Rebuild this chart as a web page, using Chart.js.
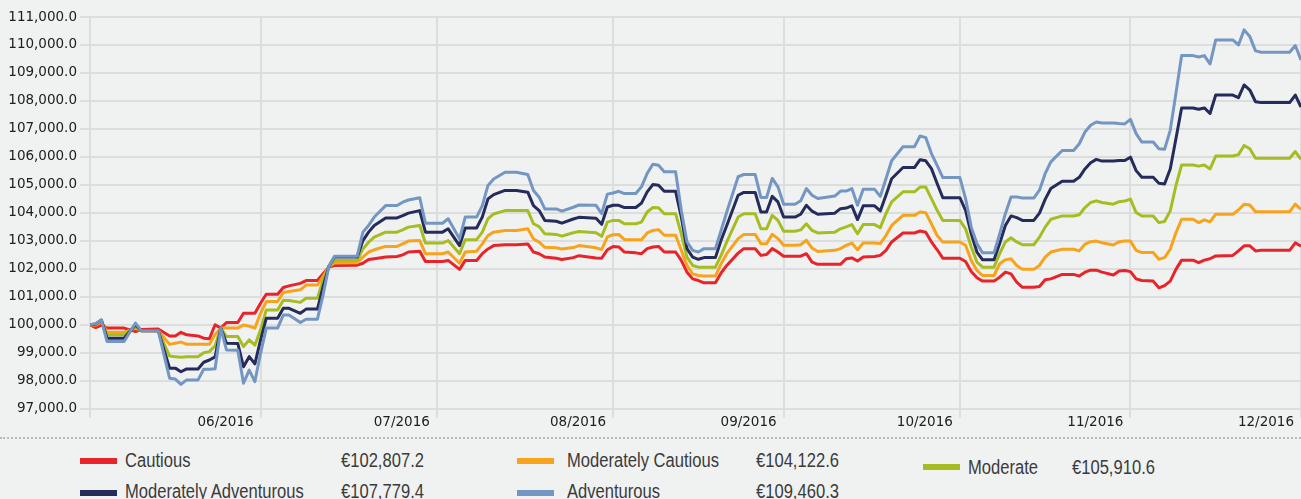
<!DOCTYPE html>
<html>
<head>
<meta charset="utf-8">
<script src="https://cdn.jsdelivr.net/npm/chart.js@4.4.0/dist/chart.umd.min.js"></script>
<style>
  html, body { margin:0; padding:0; background:#f0f1f1; width:1301px; height:499px; overflow:hidden; }
  #wrap { position:absolute; left:0; top:0; width:1301px; height:432px; }
  #sep { position:absolute; left:0; top:437px; width:1301px; height:0; border-top:2px dotted #b9baba; }
  .txt { position:absolute; font-family:'Liberation Sans',Arial,sans-serif; font-size:19.5px; line-height:20px; color:#3b3b3b; white-space:nowrap; transform:scaleX(0.85); transform-origin:0 50%; }
  .sw { position:absolute; width:37px; height:6px; }
</style>
</head>
<body>
<div id="wrap"><canvas id="myCanvas" width="1301" height="432"></canvas></div>
<div id="sep"></div>
<div id="legend"></div>
<script>
// days since 01/06/2016
var days = [0,1,2,3,6,8,9,12,14,15,
  16,17,19,20,21,22,23,24,26,27,
  28,29,30,31,33,34,35,37,38,40,
  41,42,43,47,48,49,50,52,54,55,
  56,58,59,62,63,65,66,68,69,70,
  71,73,75,77,78,79,80,82,83,85,
  86,89,90,91,92,93,94,96,97,98,
  99,100,101,103,104,105,106,107,108,110,
  111,112,114,115,117,118,119,120,121,122,
  124,125,126,127,128,131,132,133,134,135,
  136,138,139,140,141,143,145,146,147,148,
  149,150,153,154,155,156,157,159,160,161,
  162,163,164,166,167,168,169,171,173,174,
  175,176,177,178,180,181,182,183,184,185,
  187,188,189,190,191,192,194,195,196,197,
  198,201,202,203,204,205,206,211,212,213];

var cautious = [100000,99900,99990,99880,99880,99760,99830,99850,99600,99600,
  99730,99640,99600,99520,99500,100000,99880,100080,100080,100410,
  100410,100410,100770,101090,101090,101330,101390,101480,101580,101580,
  101820,102060,102120,102130,102200,102330,102360,102420,102440,102500,
  102600,102630,102260,102260,102300,101980,102300,102300,102540,102710,
  102830,102860,102860,102890,102600,102540,102420,102380,102330,102400,
  102470,102390,102380,102680,102800,102780,102600,102570,102540,102720,
  102780,102800,102600,102600,102300,101880,101640,101580,101500,101500,
  101850,102120,102560,102720,102720,102480,102510,102720,102600,102450,
  102450,102450,102540,102240,102160,102160,102160,102360,102390,102280,
  102420,102440,102480,102660,102960,103280,103280,103350,103310,102960,
  102680,102380,102380,102260,101900,101680,101560,101560,101700,101880,
  101820,101520,101340,101340,101370,101610,101640,101800,101800,101740,
  101880,101950,101950,101880,101780,101920,101940,101900,101640,101580,
  101560,101320,101400,101560,101980,102310,102310,102220,102310,102360,
  102460,102480,102640,102820,102820,102640,102660,102660,102930,102807.2];

var modCautious = [100000,99980,100100,99730,99730,99880,99790,99790,99300,99340,
  99380,99300,99300,99300,99300,99650,99880,99880,99880,99990,
  99950,99880,100410,100830,100830,101150,101190,101250,101420,101420,
  101720,102080,102210,102220,102420,102600,102680,102800,102800,102890,
  102990,103010,102540,102540,102600,102200,102600,102630,102890,103190,
  103310,103370,103370,103430,103070,102950,102770,102750,102710,102760,
  102830,102750,102690,103140,103220,103230,103040,103040,103040,103280,
  103370,103400,103200,103200,102660,102120,101820,101760,101740,101740,
  102180,102540,103080,103230,103230,102900,102900,103230,103080,102840,
  102840,102860,103020,102740,102620,102660,102720,102840,102920,102680,
  102920,102920,102900,103190,103550,103910,103910,104030,104000,103610,
  103190,102960,102960,102840,102300,101940,101760,101760,102180,102320,
  102360,102120,101980,101980,102120,102420,102600,102700,102700,102640,
  102880,102970,102990,102930,102850,102970,102990,102990,102660,102580,
  102580,102340,102400,102700,103290,103770,103770,103650,103750,103680,
  103950,103950,104100,104310,104280,104040,104040,104040,104310,104122.6];

var moderate = [100000,100020,100150,99640,99640,99930,99790,99790,98880,98860,
  98840,98860,98860,99000,99040,99250,99880,99580,99580,99220,
  99460,99270,99820,100530,100530,100880,100870,100800,100950,100950,
  101600,102080,102300,102300,102710,102950,103130,103310,103310,103390,
  103490,103550,102920,102920,103010,102540,103040,103040,103310,103790,
  103960,104080,104080,104080,103610,103510,103250,103230,103170,103290,
  103330,103290,103160,103670,103730,103730,103610,103610,103670,104030,
  104190,104180,103970,103970,103250,102420,102120,102060,102060,102060,
  102480,102960,103850,103970,103970,103430,103430,103910,103730,103340,
  103340,103390,103610,103370,103280,103310,103430,103500,103580,103250,
  103580,103580,103470,103970,104390,104750,104750,104920,104920,104510,
  104090,103730,103730,103430,102780,102240,102060,102060,102540,102960,
  103110,102960,102860,102860,103130,103490,103770,103890,103890,103930,
  104190,104370,104430,104370,104310,104400,104420,104490,104010,103890,
  103890,103650,103690,104070,104970,105710,105710,105670,105710,105570,
  106030,106030,106080,106410,106290,105950,105950,105950,106190,105910.6];

var modAdventurous = [100000,100030,100170,99520,99520,100000,99790,99790,98450,98450,
  98320,98420,98420,98660,98740,98850,99880,99340,99330,98500,
  98860,98600,99460,100230,100230,100590,100590,100410,100560,100560,
  101360,102080,102420,102420,103010,103310,103550,103820,103820,103900,
  103990,104080,103310,103310,103430,102830,103460,103460,103850,104500,
  104650,104800,104800,104740,104260,104080,103730,103700,103630,103780,
  103840,103810,103590,104210,104270,104270,104190,104190,104350,104750,
  105010,104990,104770,104770,103850,102720,102420,102340,102400,102400,
  103020,103550,104630,104730,104730,104030,104030,104590,104390,103850,
  103850,103950,104270,104060,103950,103990,104150,104170,104250,103760,
  104250,104250,104070,104630,105220,105620,105620,105900,105860,105580,
  105050,104540,104540,104090,103250,102600,102320,102320,102900,103550,
  103890,103830,103730,103730,103990,104480,104870,105130,105130,105270,
  105570,105790,105910,105850,105850,105870,105870,105990,105510,105270,
  105270,105060,105030,105570,106650,107750,107750,107700,107750,107550,
  108210,108210,108120,108570,108390,107970,107940,107940,108210,107779.4];

var adventurous = [100000,100040,100170,99400,99400,100060,99790,99790,98090,98060,
  97870,98030,98030,98410,98410,98430,99880,99100,99090,97910,
  98380,97970,98980,99880,99880,100350,100350,100080,100200,100200,
  101070,102080,102450,102450,103310,103550,103850,104260,104260,104380,
  104460,104540,103630,103630,103790,103070,103850,103850,104260,104980,
  105210,105450,105450,105370,104800,104560,104140,104140,104060,104200,
  104280,104270,103970,104670,104710,104770,104690,104690,104930,105410,
  105740,105700,105470,105470,104090,102960,102660,102600,102720,102720,
  103370,104030,105290,105370,105370,104550,104550,105230,104930,104310,
  104310,104430,104870,104630,104510,104600,104780,104780,104870,104270,
  104840,104840,104590,105220,105860,106360,106360,106750,106690,106120,
  105700,105260,105260,104510,103490,102900,102570,102570,103250,103970,
  104570,104570,104530,104530,104810,105400,105820,106230,106230,106470,
  106890,107130,107250,107210,107210,107190,107180,107340,106830,106530,
  106530,106290,106270,106950,108270,109620,109620,109570,109620,109320,
  110180,110180,110000,110540,110300,109790,109740,109740,109980,109460.3];

var seriesNames = ['Cautious', 'Moderately Cautious', 'Moderate', 'Moderately Adventurous', 'Adventurous'];
var monthTicks = [0, 30, 61, 92, 122, 153, 183, 213];
var monthLabels = ['', '06/2016', '07/2016', '08/2016', '09/2016', '10/2016', '11/2016', '12/2016'];

var allSeries = [cautious, modCautious, moderate, modAdventurous, adventurous];
var colors = ['#e8232a', '#f7a31c', '#a6bd21', '#252b5a', '#7496c3'];

function fmt(v){
  return v.toLocaleString('en-US', {minimumFractionDigits:1, maximumFractionDigits:1});
}

function draw(){
  var ctx = document.getElementById('myCanvas').getContext('2d');
  var tickFont = {family:'DejaVu Sans', size:13.5};
  var datasets = allSeries.map(function(s, i){
    return {
      label: seriesNames[i],
      data: days.map(function(d, j){ return {x:d, y:s[j]}; }),
      borderColor: colors[i],
      borderWidth: 3,
      pointRadius: 0,
      tension: 0,
      fill: false,
      borderJoinStyle: 'round',
      order: 5 - i
    };
  });
  new Chart(ctx, {
    type: 'line',
    data: { datasets: datasets },
    options: {
      responsive: false,
      animation: false,
      layout: { padding: { top: 17, left: 0, right: 0, bottom: 0 } },
      plugins: { legend: { display:false }, tooltip: { enabled:false } },
      scales: {
        x: {
          type: 'linear', min: 0, max: 213,
          afterBuildTicks: function(s){ s.ticks = monthTicks.map(function(v){ return {value:v}; }); },
          afterFit: function(s){ s.height = 432 - 408.7; },
          ticks: {
            autoSkip: false, maxRotation: 0, align: 'end', labelOffset: -7, padding: -3,
            font: tickFont, color: '#202020',
            callback: function(v){ var k = monthTicks.indexOf(v); return k < 0 ? '' : monthLabels[k]; }
          },
          grid: { color: '#dcdddd', lineWidth: 2, tickLength: 9 },
          border: { display: false }
        },
        y: {
          min: 97000, max: 111000,
          afterFit: function(s){ s.width = 90; },
          ticks: { stepSize: 1000, padding: 3, font: tickFont, color: '#202020', callback: function(v){ return fmt(v); } },
          grid: { color: '#dcdddd', lineWidth: 2, tickLength: 10 },
          border: { display: false }
        }
      }
    }
  });
}

function drawLegend(){
  // swatch x, text x, value x, swatch centre y, text centre y
  var slots = [
    [80, 125, 341, 461, 460],
    [517, 567, 756, 461, 460],
    [923, 968, 1072, 466.5, 467],
    [80, 125, 341, 492.5, 491],
    [517, 567, 756, 492.5, 491]
  ];
  var box = document.getElementById('legend');
  seriesNames.forEach(function(name, i){
    var p = slots[i];
    var sw = document.createElement('div');
    sw.className = 'sw';
    sw.style.left = p[0] + 'px';
    sw.style.top = (p[3] - 3) + 'px';
    sw.style.background = colors[i];
    box.appendChild(sw);
    var t = document.createElement('div');
    t.className = 'txt';
    t.style.left = p[1] + 'px';
    t.style.top = (p[4] - 9.8) + 'px';
    t.textContent = name;
    box.appendChild(t);
    var s = allSeries[i];
    var v = document.createElement('div');
    v.className = 'txt';
    v.style.left = p[2] + 'px';
    v.style.top = (p[4] - 9.8) + 'px';
    v.textContent = '€' + fmt(s[s.length - 1]);
    box.appendChild(v);
  });
}

draw();
drawLegend();
</script>
</body>
</html>
